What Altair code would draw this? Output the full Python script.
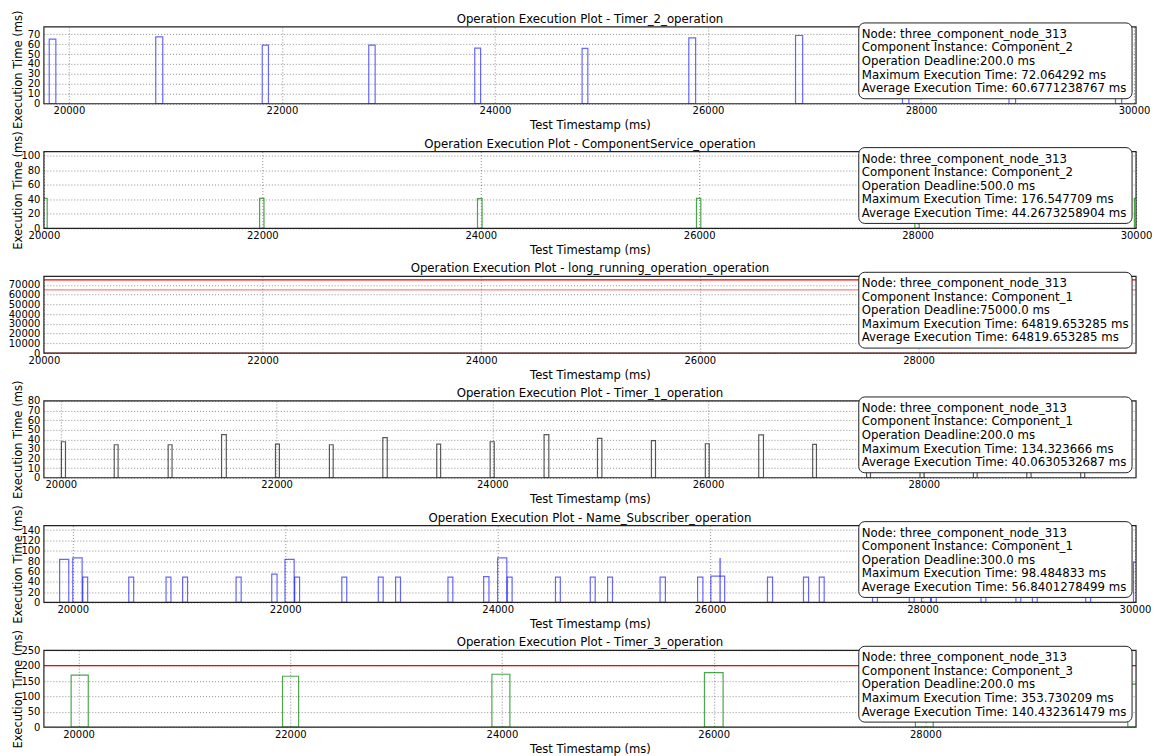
import altair as alt
import pandas as pd

FONT = "DejaVu Sans"
W = 1095
H = 77

NODE = "Node: three_component_node_313"
XTICKS = [20000, 22000, 24000, 26000, 28000, 30000]

# ---- Panel 1: Timer_2_operation ----
P1_TITLE = "Operation Execution Plot - Timer_2_operation"
P1_START = [19815, 20815, 21815, 22815, 23810, 24818, 25820, 26822, 27826, 28826, 29826]
P1_TIME = [65.0, 67.3, 59.0, 59.0, 56.0, 55.7, 66.3, 68.7, 72.1, 50.0, 48.3]
P1_WIDTH = [62, 66, 58, 60, 55, 54, 64, 67, 60, 62, 58]
P1_DEADLINE = 200.0
P1_LEGEND = [NODE, "Component Instance: Component_2", "Operation Deadline:200.0 ms",
             "Maximum Execution Time: 72.064292 ms", "Average Execution Time: 60.6771238767 ms"]

# ---- Panel 2: ComponentService_operation ----
P2_TITLE = "Operation Execution Plot - ComponentService_operation"
P2_START = [19990, 21975, 23970, 25975, 27975, 29985]
P2_TIME = [41.5, 41.5, 41.0, 41.5, 41.0, 41.5]
P2_WIDTH = [40, 40, 42, 40, 40, 40]
P2_DEADLINE = 500.0
P2_LEGEND = [NODE, "Component Instance: Component_2", "Operation Deadline:500.0 ms",
             "Maximum Execution Time: 176.547709 ms", "Average Execution Time: 44.2673258904 ms"]

# ---- Panel 3: long_running_operation_operation ----
P3_TITLE = "Operation Execution Plot - long_running_operation_operation"
P3_START = [15000]
P3_TIME = [64819.653285]
P3_WIDTH = [64819.653285]
P3_DEADLINE = 75000.0
P3_LEGEND = [NODE, "Component Instance: Component_1", "Operation Deadline:75000.0 ms",
             "Maximum Execution Time: 64819.653285 ms", "Average Execution Time: 64819.653285 ms"]

# ---- Panel 4: Timer_1_operation ----
P4_TITLE = "Operation Execution Plot - Timer_1_operation"
P4_START = [20005, 20495, 20995, 21490, 21990, 22490, 22985, 23485, 23980, 24480,
            24975, 25475, 25975, 26470, 26970, 27470, 27965, 28460, 28955, 29455]
P4_TIME = [37.5, 34.4, 34.4, 44.9, 35.1, 34.4, 41.8, 35.1, 37.5, 44.9,
           41.0, 38.6, 35.4, 44.6, 34.7, 36.0, 38.0, 35.0, 40.0, 37.0]
P4_WIDTH = [38, 36, 36, 44, 36, 35, 41, 36, 38, 44, 41, 38, 36, 44, 35, 36, 38, 35, 40, 37]
P4_DEADLINE = 200.0
P4_LEGEND = [NODE, "Component Instance: Component_1", "Operation Deadline:200.0 ms",
             "Maximum Execution Time: 134.323666 ms", "Average Execution Time: 40.0630532687 ms"]

# ---- Panel 5: Name_Subscriber_operation ----
P5_TITLE = "Operation Execution Plot - Name_Subscriber_operation"
P5_START = [19876, 20000, 20094, 20527, 20878, 21034, 21537, 21873, 21998, 22089,
            22533, 22876, 23039, 23532, 23868, 24000, 24090, 24544, 24872, 25035,
            25529, 25882, 26007, 26093, 26540, 26879, 27028, 27529, 27875, 27990,
            28083, 28550, 28879, 29034, 29536, 29986]
P5_TIME = [83.3, 86.0, 48.8, 48.8, 48.8, 48.8, 48.8, 54.7, 83.3, 48.8,
           48.8, 48.8, 48.8, 48.8, 50.0, 86.0, 48.8, 48.8, 48.8, 48.8,
           48.8, 48.8, 50.8, 84.6, 48.8, 48.8, 48.8, 49.0, 49.0, 85.0,
           49.0, 49.0, 49.0, 49.0, 49.0, 78.0]
P5_WIDTH = [86, 88, 46, 46, 46, 46, 48, 50, 86, 46,
            46, 46, 46, 46, 50, 86, 46, 46, 46, 46,
            50, 50, 130, 2, 48, 48, 46, 46, 46, 86,
            46, 46, 46, 46, 46, 90]
P5_DEADLINE = 300.0
P5_LEGEND = [NODE, "Component Instance: Component_1", "Operation Deadline:300.0 ms",
             "Maximum Execution Time: 98.484833 ms", "Average Execution Time: 56.8401278499 ms"]

# ---- Panel 6: Timer_3_operation ----
P6_TITLE = "Operation Execution Plot - Timer_3_operation"
P6_START = [19930, 21927, 23905, 25913, 27906, 29912]
P6_TIME = [168.9, 165.6, 172.0, 177.6, 170.0, 140.0]
P6_WIDTH = [162, 152, 170, 176, 168, 170]
P6_DEADLINE = 200.0
P6_LEGEND = [NODE, "Component Instance: Component_3", "Operation Deadline:200.0 ms",
             "Maximum Execution Time: 353.730209 ms", "Average Execution Time: 140.432361479 ms"]


def panel(title, start, time, width, deadline, legend, color, opacity,
          xdom, xticks, ydom, yticks, show_ytitle=True, ytitle_y=H / 2):
    df = pd.DataFrame({"start": start, "end": [s + w for s, w in zip(start, width)], "time": time})
    xscale = alt.Scale(domain=xdom, nice=False, zero=False)
    yscale = alt.Scale(domain=ydom, nice=False, zero=False)
    xaxis = alt.Axis(values=xticks, format="d", title="Test Timestamp (ms)",
                     labelPadding=2, titlePadding=4)
    if show_ytitle:
        yaxis = alt.Axis(values=yticks, format="d", title="Execution Time (ms)",
                         titleX=-20, titleY=ytitle_y)
    else:
        yaxis = alt.Axis(values=yticks, format="d", title="")

    bars = alt.Chart(df).mark_rect(
        fill="white", fillOpacity=0, stroke=color, strokeOpacity=opacity, strokeWidth=1.2, clip=True
    ).encode(
        x=alt.X("start:Q", scale=xscale, axis=xaxis),
        x2="end:Q",
        y=alt.Y("time:Q", scale=yscale, axis=yaxis),
        y2=alt.datum(0),
    )
    rule = alt.Chart(pd.DataFrame({"deadline": [deadline]})).mark_rule(
        color="#ff0000", strokeWidth=1.2, clip=True
    ).encode(y=alt.Y("deadline:Q", scale=yscale, axis=yaxis))

    one = pd.DataFrame({"k": [0]})
    frame = alt.Chart(one).mark_rect(
        fill="white", fillOpacity=0, stroke="#222222", strokeWidth=1.2
    ).encode(x=alt.value(0), x2=alt.value(W), y=alt.value(0), y2=alt.value(H))
    ttl = alt.Chart(one).mark_text(
        align="center", baseline="middle", font=FONT, fontSize=11.8, color="black"
    ).encode(x=alt.value(W / 2), y=alt.value(-8), text=alt.value(title))
    box = alt.Chart(one).mark_rect(
        fill="white", stroke="#222222", strokeWidth=1, cornerRadius=6
    ).encode(x=alt.value(W - 278), x2=alt.value(W - 4), y=alt.value(-4), y2=alt.value(72))
    txt = alt.Chart(one).mark_text(
        align="left", baseline="top", font=FONT, fontSize=11.8, lineHeight=13.6, color="black"
    ).encode(x=alt.value(W - 275), y=alt.value(2), text=alt.value(legend))

    return alt.layer(bars, rule, frame, ttl, box, txt).properties(width=W, height=H)


p1 = panel(P1_TITLE, P1_START, P1_TIME, P1_WIDTH, P1_DEADLINE, P1_LEGEND, "#0000ff", 0.6,
           [19765, 30019], XTICKS, [0, 77.3], [0, 10, 20, 30, 40, 50, 60, 70],
           ytitle_y=H / 2 + 4)
p2 = panel(P2_TITLE, P2_START, P2_TIME, P2_WIDTH, P2_DEADLINE, P2_LEGEND, "#008000", 0.7,
           [20000, 30000], XTICKS, [0, 106], [0, 20, 40, 60, 80, 100])
p3 = panel(P3_TITLE, P3_START, P3_TIME, P3_WIDTH, P3_DEADLINE, P3_LEGEND, "#ff0000", 0.5,
           [20000, 29990], XTICKS[:-1], [0, 78750],
           [0, 10000, 20000, 30000, 40000, 50000, 60000, 70000], show_ytitle=False)
p4 = panel(P4_TITLE, P4_START, P4_TIME, P4_WIDTH, P4_DEADLINE, P4_LEGEND, "#000000", 0.65,
           [19843, 29968], XTICKS[:-1], [0, 80], [0, 10, 20, 30, 40, 50, 60, 70, 80])
p5 = panel(P5_TITLE, P5_START, P5_TIME, P5_WIDTH, P5_DEADLINE, P5_LEGEND, "#0000ff", 0.6,
           [19728, 30010], XTICKS, [0, 148.5], [0, 20, 40, 60, 80, 100, 120, 140])
p6 = panel(P6_TITLE, P6_START, P6_TIME, P6_WIDTH, P6_DEADLINE, P6_LEGEND, "#008000", 0.7,
           [19673, 29990], XTICKS[:-1], [0, 250], [0, 50, 100, 150, 200, 250])

chart = alt.vconcat(p1, p2, p3, p4, p5, p6, spacing=48, bounds="flush").resolve_scale(
    x="independent", y="independent"
).properties(
    padding=0,
    background="white",
).configure_view(
    stroke=None
).configure_axis(
    labelFont=FONT, titleFont=FONT, labelFontSize=10, titleFontSize=11.6,
    titleFontWeight="normal", labelColor="black", titleColor="black",
    grid=True, gridDash=[1, 2], gridColor="#000000", gridOpacity=0.45, gridWidth=1,
    domain=False, ticks=False, labelPadding=4, labelFlush=False, labelOverlap=False,
    titlePadding=3,
)

chart.save("out.html", embed_options={"renderer": "svg", "actions": False})
